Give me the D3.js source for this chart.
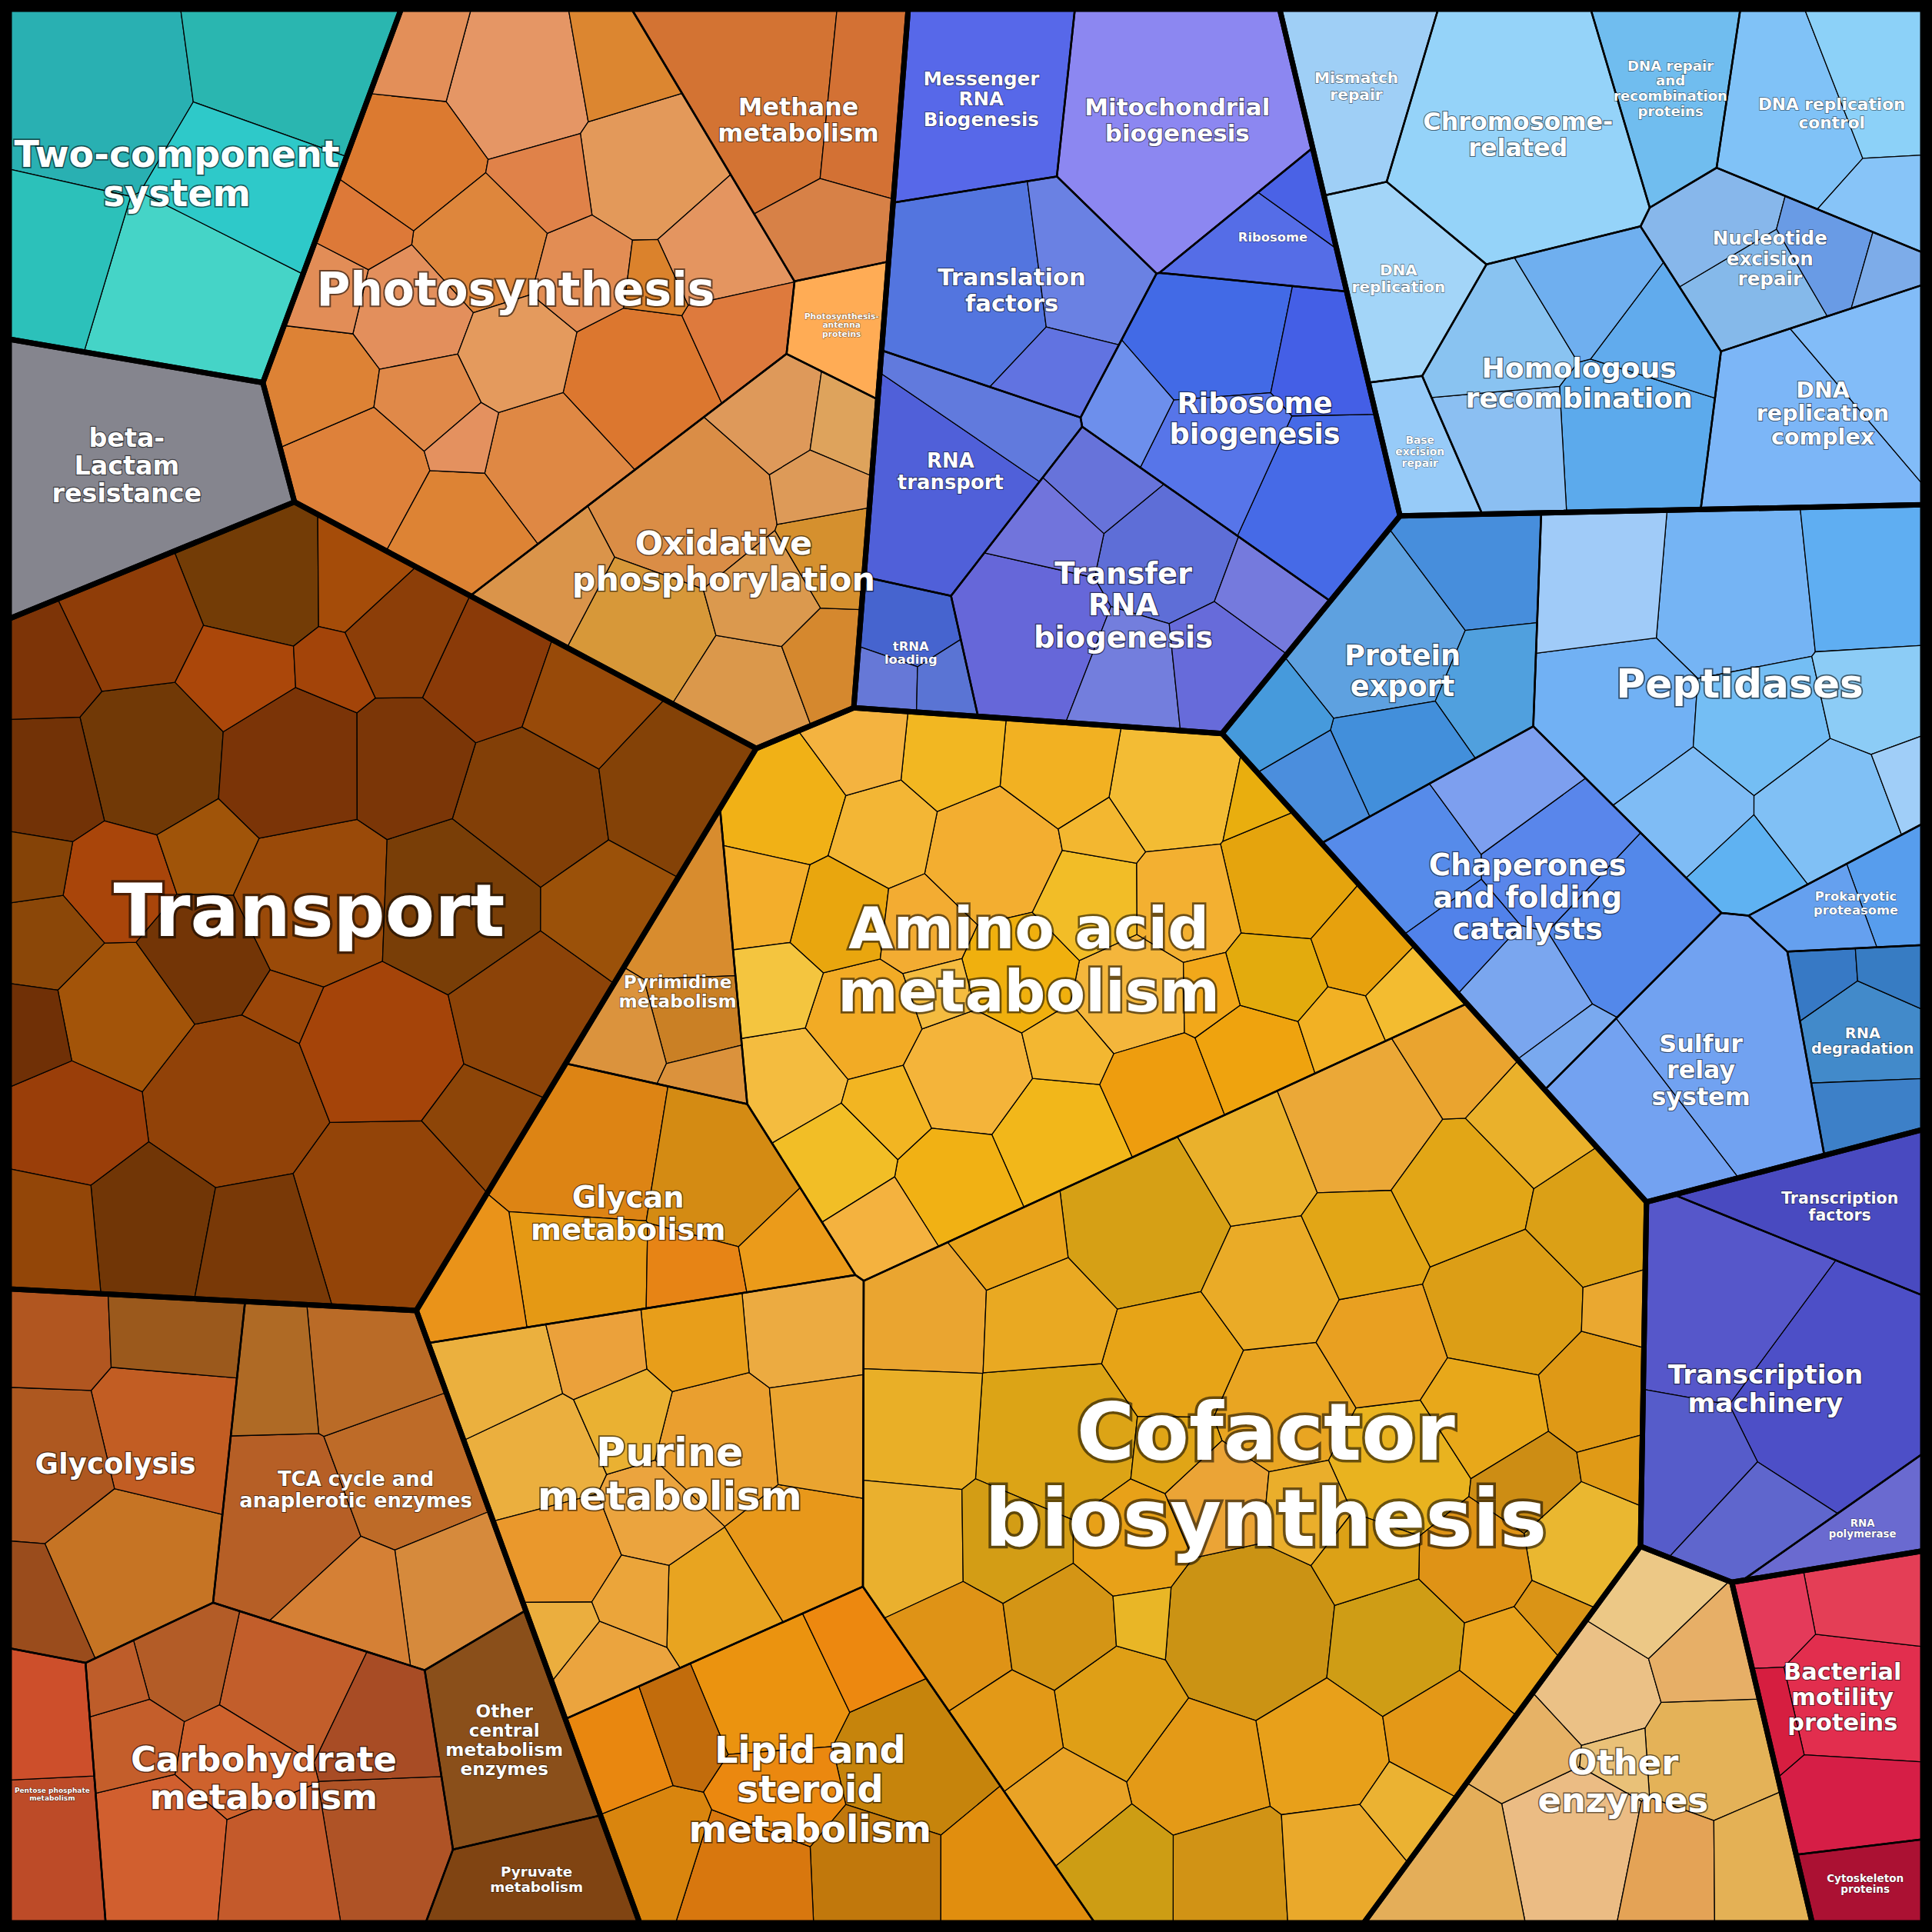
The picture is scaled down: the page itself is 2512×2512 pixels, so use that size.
<!DOCTYPE html>
<html lang="en">
<head>
<meta charset="UTF-8">
<title>Proteomap</title>
<script src="https://cdn.jsdelivr.net/npm/d3@7/dist/d3.min.js"></script>
<style>
  body { margin: 0; background: #000; }
  svg { display: block; }
</style>
</head>
<body>
<script>
'use strict';
var W = 2512;

// top-level groups
var groupNames = ['Environmental', 'Drug resistance', 'Energy', 'Transport', 'Central carbon',
  'Metabolism', 'Translation', 'Replication and repair', 'Folding and sorting',
  'Transcription', 'Other enzymes', 'Cellular processes'];

// pathways
var pathwayNames = [
  'Two-component\nsystem', 'beta-\nLactam\nresistance',
  'Photosynthesis', 'Photosynthesis-\nantenna\nproteins', 'Oxidative\nphosphorylation', 'Methane\nmetabolism',
  'Transport',
  'TCA cycle and\nanaplerotic enzymes', 'Glycolysis', 'Carbohydrate\nmetabolism', 'Pentose phosphate\nmetabolism',
  'Other\ncentral\nmetabolism\nenzymes', 'Pyruvate\nmetabolism',
  'Amino acid\nmetabolism', 'Pyrimidine\nmetabolism', 'Glycan\nmetabolism', 'Purine\nmetabolism',
  'Cofactor\nbiosynthesis', 'Lipid and\nsteroid\nmetabolism',
  'RNA\ntransport', 'Messenger\nRNA\nBiogenesis', 'Mitochondrial\nbiogenesis', 'Ribosome', 'Translation\nfactors',
  'tRNA\nloading', 'Transfer\nRNA\nbiogenesis', 'Ribosome\nbiogenesis',
  'Mismatch\nrepair', 'DNA repair\nand\nrecombination\nproteins', 'DNA replication\ncontrol', 'Nucleotide\nexcision\nrepair',
  'Chromosome-\nrelated', 'Base\nexcision\nrepair', 'DNA\nreplication', 'Homologous\nrecombination', 'DNA\nreplication\ncomplex',
  'Protein\nexport', 'Chaperones\nand folding\ncatalysts', 'Peptidases', 'Sulfur\nrelay\nsystem', 'RNA\ndegradation',
  'Prokaryotic\nproteasome',
  'RNA\npolymerase', 'Transcription\nmachinery', 'Transcription\nfactors',
  'Other\nenzymes',
  'Bacterial\nmotility\nproteins', 'Cytoskeleton\nproteins'
];
var pathwayGroup = [0, 1, 2, 2, 2, 2, 3, 4, 4, 4, 4, 4, 4, 5, 5, 5, 5, 5, 5,
  6, 6, 6, 6, 6, 6, 6, 6, 7, 7, 7, 7, 7, 7, 7, 7, 7, 8, 8, 8, 8, 8, 8, 9, 9, 9, 10, 11, 11];
var pathwayColors = ['#2ec9c4', '#7a7a84',
  '#e08a48', '#ffa550', '#d8913e', '#d8804a',
  '#8e4208',
  '#c8702a', '#b05e20', '#c0602a', '#c84a2a', '#a85a20', '#8e4a14',
  '#f2b020', '#d8902c', '#e08a14', '#eaa530', '#e8a418', '#e0880e',
  '#4a5fd8', '#5068e8', '#7070ee', '#5a6ae8', '#5a72e0', '#4a60d0', '#6068d8', '#5070e8',
  '#b0d8f8', '#8cc4f2', '#8ccaf8', '#84b4ea', '#8ccaf8', '#b8e0fa', '#a8d4f8', '#7cb8f0', '#88c0f8',
  '#5ca0e0', '#6494ec', '#80bff5', '#6ca4f0', '#4a88cc', '#70a8f0',
  '#5050c8', '#5c5ccc', '#4048b8',
  '#e8b870',
  '#e0203e', '#c81438'];
// protein abundances (leaf cells) per pathway
var pathwayLeaves = [
  [9, 8, 7, 6, 5], [15],
  [5, 5, 4.5, 4, 4, 4, 3.5, 3.5, 3, 3, 3, 3, 2.5, 2.5, 2.5, 2, 2, 2, 1.5, 1.5, 1, 1], [3],
  [6, 4, 3, 3, 2.5, 2.5, 2, 2, 1.5, 1.5], [8, 4, 3],
  [8, 7, 6, 6, 6, 5, 5, 5, 5, 5, 4.5, 4.5, 4, 4, 4, 4, 4, 3.5, 3.5, 3.5, 3, 3, 3, 3, 3, 2.5, 2.5, 2.5, 2, 2, 2, 1.5, 1.5, 1, 1],
  [6, 5, 4, 4, 3, 3], [6, 5, 4, 3, 3, 2], [5, 5, 4, 4, 3.5, 3, 2.5, 2, 1], [4, 3], [8], [5],
  [4, 4, 3.5, 3.5, 3.5, 3.5, 3, 3, 3, 3, 3, 3, 3, 2.5, 2.5, 2.5, 2.5, 2.5, 2.5, 2.5, 2, 2, 2, 2, 2, 2, 2, 1.5, 1.5, 1.5, 1.5, 1, 1, 1, 0.8],
  [3, 2, 2, 1], [6, 5, 4, 3, 2, 2], [4, 4, 3.5, 3.5, 3, 3, 3, 3, 2.5, 2.5, 2, 2, 2, 1.5, 1],
  [7, 6, 6, 5, 5, 4, 4, 4, 4, 4, 4, 4, 4, 4, 4, 3.5, 3.5, 3.5, 3.5, 3.5, 3.5, 3.5, 3.5, 3, 3, 3, 3, 3, 3, 3, 3, 3, 3, 3,
    2.5, 2.5, 2.5, 2.5, 2.5, 2, 2, 2, 2, 2, 1.5, 1.5, 1, 1, 1, 1],
  [5, 4.5, 4, 4, 3.5, 3, 3, 2.5, 2.5, 2],
  [7, 3], [9], [15], [3, 1], [8, 4, 2], [2, 1, 1], [6, 4, 3, 3, 2, 2, 2], [6, 5, 4, 3, 2],
  [6], [6], [6, 4, 2], [3, 3, 2, 1], [15], [3], [6], [6, 4, 4, 3, 3], [8, 4],
  [6, 4, 3, 3, 2, 2], [5, 4, 4, 3, 3, 2, 1], [7, 6, 5, 5, 4, 4, 3, 3, 2, 1], [10, 5], [3, 2, 1, 1], [2, 2],
  [3], [10, 8, 4, 3], [6],
  [5, 4, 4, 3, 3, 3, 2.5, 2.5, 2, 1],
  [5, 4, 3, 2, 1], [3]
];
// layout hints: rough relative starting point of each pathway
var pathwaySeeds = [
  [0.15, 0.05], [0.03, 0.12], [0.18, 0.22], [0.31, 0.05], [0.40, 0.20], [0.03, 0.24],
  [0.12, 0.52],
  [0.17, 0.82], [0.05, 0.89], [0.22, 0.93], [0.06, 0.97], [0.34, 0.94], [0.37, 0.98],
  [0.49, 0.40], [0.30, 0.44], [0.32, 0.58], [0.35, 0.72], [0.70, 0.68], [0.48, 0.92],
  [0.35, 0.03], [0.46, 0.03], [0.54, 0.04], [0.64, 0.02], [0.41, 0.07], [0.46, 0.11], [0.53, 0.13], [0.61, 0.12],
  [0.69, 0.05], [0.73, 0.02], [0.87, 0.02], [0.96, 0.06], [0.77, 0.06], [0.675, 0.09], [0.71, 0.10], [0.86, 0.10], [0.95, 0.15],
  [0.77, 0.18], [0.66, 0.23], [0.90, 0.26], [0.77, 0.33], [0.84, 0.37], [0.89, 0.38],
  [0.98, 0.355], [0.93, 0.44], [0.98, 0.51],
  [0.90, 0.87],
  [0.96, 0.93], [0.92, 0.99]
];

// ---------- weighted (power) voronoi treemap ----------
function mulberry(a) {
  return function () {
    a |= 0; a = a + 0x6D2B79F5 | 0;
    var t = Math.imul(a ^ a >>> 15, 1 | a);
    t = t + Math.imul(t ^ t >>> 7, 61 | t) ^ t;
    return ((t ^ t >>> 14) >>> 0) / 4294967296;
  };
}
var rnd = mulberry(7);

function clip(poly, a, b, c) {
  var out = [], n = poly.length;
  for (var i = 0; i < n; i++) {
    var P = poly[i], Q = poly[(i + 1) % n];
    var fp = a * P[0] + b * P[1] - c, fq = a * Q[0] + b * Q[1] - c;
    if (fp <= 0) out.push(P);
    if ((fp < 0 && fq > 0) || (fp > 0 && fq < 0)) {
      var t = fp / (fp - fq);
      out.push([P[0] + t * (Q[0] - P[0]), P[1] + t * (Q[1] - P[1])]);
    }
  }
  return out;
}
function area(p) { return p.length < 3 ? 0 : Math.abs(d3.polygonArea(p)); }
function cells(container, s, w) {
  return s.map(function (pi, i) {
    var poly = container;
    for (var j = 0; j < s.length && poly.length > 2; j++) {
      if (j === i) continue;
      var pj = s[j];
      poly = clip(poly, 2 * (pj[0] - pi[0]), 2 * (pj[1] - pi[1]),
        pj[0] * pj[0] + pj[1] * pj[1] - pi[0] * pi[0] - pi[1] * pi[1] - w[j] + w[i]);
    }
    return poly;
  });
}
function pullInside(container, p) {
  var c = d3.polygonCentroid(container), q = p.slice();
  for (var k = 0; k < 40 && !d3.polygonContains(container, q); k++) {
    q = [q[0] + (c[0] - q[0]) * 0.25, q[1] + (c[1] - q[1]) * 0.25];
  }
  return q;
}
function voronoiMap(container, values, seeds) {
  var n = values.length;
  if (n === 1) return [container];
  var A = area(container), total = d3.sum(values);
  var target = values.map(function (v) { return v / total * A; });
  var s = seeds.map(function (p) {
    return pullInside(container, [p[0] + (rnd() - 0.5) * 2, p[1] + (rnd() - 0.5) * 2]);
  });
  var w = values.map(function () { return A * 1e-3; });
  for (var it = 0; it < 160; it++) {
    var cs = cells(container, s, w);
    for (var i = 0; i < n; i++) {
      var a = area(cs[i]);
      var r = a > 0 ? target[i] / a : 3;
      r = Math.max(0.4, Math.min(3, r));
      if (a > 0) s[i] = d3.polygonCentroid(cs[i]);
      w[i] = Math.max(w[i] * r, A * 1e-7);
    }
    for (i = 0; i < n; i++) {
      var md = Infinity;
      for (var j = 0; j < n; j++) {
        if (j === i) continue;
        var dx = s[i][0] - s[j][0], dy = s[i][1] - s[j][1];
        md = Math.min(md, dx * dx + dy * dy);
      }
      w[i] = Math.min(w[i], md);
    }
  }
  return cells(container, s, w);
}

// ---------- build layout ----------
var m = 12;
var outer = [[m, m], [W - m, m], [W - m, W - m], [m, W - m]];
var pathTotals = pathwayLeaves.map(function (l) { return d3.sum(l); });
var groupIdx = groupNames.map(function (g, gi) {
  return d3.range(pathwayNames.length).filter(function (p) { return pathwayGroup[p] === gi; });
});
var groupValues = groupIdx.map(function (ids) { return d3.sum(ids, function (p) { return pathTotals[p]; }); });
var groupSeeds = groupIdx.map(function (ids, gi) {
  return [d3.sum(ids, function (p) { return pathwaySeeds[p][0] * pathTotals[p]; }) / groupValues[gi] * W,
          d3.sum(ids, function (p) { return pathwaySeeds[p][1] * pathTotals[p]; }) / groupValues[gi] * W];
});
var groupCells = voronoiMap(outer, groupValues, groupSeeds);

var pathCells = [];
groupIdx.forEach(function (ids, gi) {
  var pc = voronoiMap(groupCells[gi], ids.map(function (p) { return pathTotals[p]; }),
    ids.map(function (p) { return [pathwaySeeds[p][0] * W, pathwaySeeds[p][1] * W]; }));
  ids.forEach(function (p, k) { pathCells[p] = pc[k]; });
});

var leaves = [];
pathwayLeaves.forEach(function (vals, p) {
  var cont = pathCells[p];
  var ext = d3.extent(cont, function (d) { return d[0]; }), eyt = d3.extent(cont, function (d) { return d[1]; });
  var seeds = vals.map(function () {
    var q;
    for (var k = 0; k < 200; k++) {
      q = [ext[0] + rnd() * (ext[1] - ext[0]), eyt[0] + rnd() * (eyt[1] - eyt[0])];
      if (d3.polygonContains(cont, q)) break;
    }
    return q;
  });
  var lc = voronoiMap(cont, vals, seeds);
  lc.forEach(function (c) {
    var col = d3.hsl(pathwayColors[p]);
    col.l = Math.max(0.1, Math.min(0.9, col.l + (rnd() - 0.5) * 0.14));
    col.h += (rnd() - 0.5) * 8;
    leaves.push({ poly: c, color: col.toString() });
  });
});

// ---------- draw ----------
var svg = d3.select('body').append('svg').attr('width', W).attr('height', W);
svg.append('rect').attr('width', W).attr('height', W).attr('fill', '#000');
var line = function (p) { return 'M' + p.join('L') + 'Z'; };

svg.append('g').selectAll('path').data(leaves.filter(function (d) { return d.poly.length > 2; }))
  .enter().append('path')
  .attr('d', function (d) { return line(d.poly); })
  .attr('fill', function (d) { return d.color; })
  .attr('stroke', '#000').attr('stroke-width', 1.3).attr('stroke-linejoin', 'round');

svg.append('g').selectAll('path').data(pathCells.filter(function (c) { return c.length > 2; }))
  .enter().append('path')
  .attr('d', line).attr('fill', 'none')
  .attr('stroke', '#000').attr('stroke-width', 2.5).attr('stroke-linejoin', 'round');

svg.append('g').selectAll('path').data(groupCells.filter(function (c) { return c.length > 2; }))
  .enter().append('path')
  .attr('d', line).attr('fill', 'none')
  .attr('stroke', '#000').attr('stroke-width', 7).attr('stroke-linejoin', 'round');

svg.append('rect').attr('x', 6).attr('y', 6).attr('width', W - 12).attr('height', W - 12)
  .attr('fill', 'none').attr('stroke', '#000').attr('stroke-width', 14);

var labels = svg.append('g')
  .attr('font-family', '"DejaVu Sans", sans-serif').attr('font-weight', 'bold')
  .attr('text-anchor', 'middle').attr('fill', '#fff');

pathwayNames.forEach(function (name, p) {
  var c = pathCells[p];
  if (c.length < 3) return;
  var ctr = d3.polygonCentroid(c);
  var a = area(c);
  var lines = name.split('\n');
  var maxc = d3.max(lines, function (l) { return l.length; });
  var xs = d3.extent(c, function (d) { return d[0]; }), ys = d3.extent(c, function (d) { return d[1]; });
  var fs = Math.min(0.11 * Math.sqrt(a), (xs[1] - xs[0]) * 0.8 / (maxc * 0.66),
    (ys[1] - ys[0]) * 0.65 / lines.length);
  fs = Math.max(fs, 9);
  var t = labels.append('text')
    .attr('transform', 'translate(' + ctr + ')')
    .attr('font-size', fs)
    .attr('stroke', 'rgba(0,0,0,0.55)').attr('stroke-width', Math.max(1, fs * 0.07))
    .attr('paint-order', 'stroke');
  lines.forEach(function (l, i) {
    t.append('tspan').attr('x', 0)
      .attr('y', (i - (lines.length - 1) / 2) * fs * 1.08 + fs * 0.35)
      .text(l);
  });
});
</script>
</body>
</html>
